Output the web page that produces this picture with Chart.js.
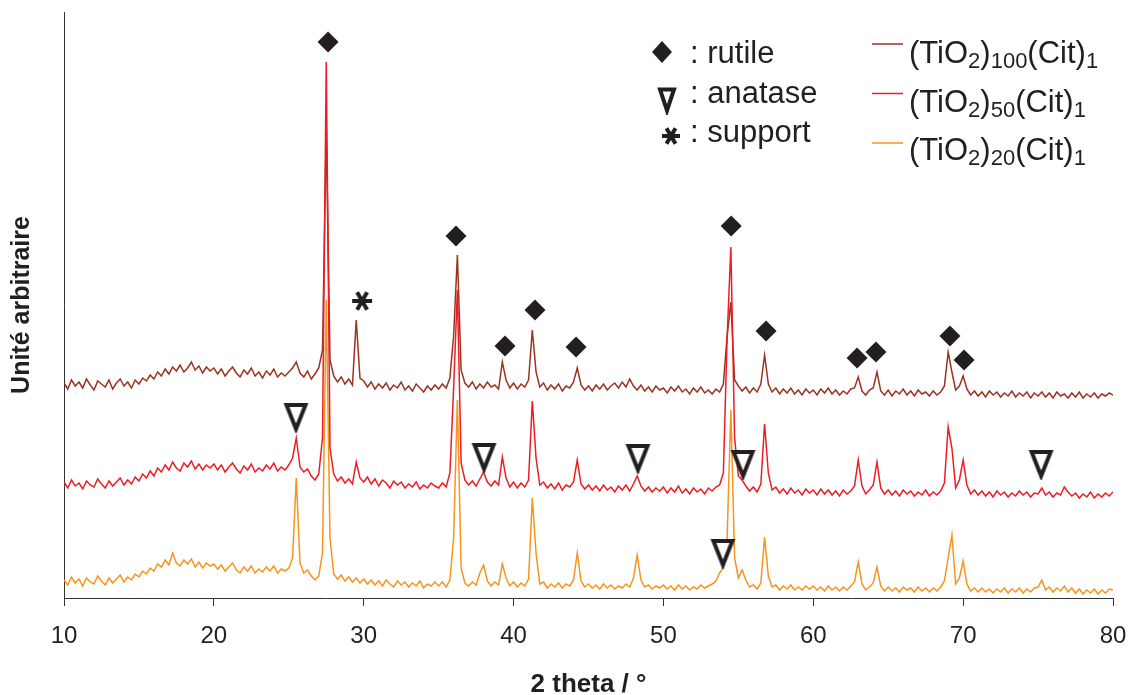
<!DOCTYPE html>
<html>
<head>
<meta charset="utf-8">
<script src="https://cdn.jsdelivr.net/npm/chart.js@4.4.0/dist/chart.umd.min.js"></script>
<style>
  html, body { margin: 0; padding: 0; background: #fff; }
</style>
</head>
<body>
<canvas id="xrd" width="1129" height="695"></canvas>
<script>
/* ---------- data (2 theta grid: 10 -> 80 by 0.25) ---------- */
const angleStart = 10;
const angleStep = 0.25;

const tio2_100 = [
  215, 209, 218, 212, 216, 210, 219, 213, 208, 217, 214, 211, 218, 209, 215, 219, 212, 216, 210, 218,
  214, 220, 217, 223, 219, 226, 222, 229, 224, 231, 227, 233, 226, 230, 236, 228, 232, 225, 231, 227,
  230, 224, 229, 222, 227, 231, 225, 221, 228, 224, 230, 222, 226, 220, 227, 223, 229, 221, 225, 222,
  226, 230, 236, 225, 221, 227, 219, 224, 230, 248, 470, 238, 222, 216, 221, 214, 219, 213, 278, 220,
  217, 211, 216, 209, 214, 210, 215, 208, 213, 210, 216, 208, 212, 207, 214, 210, 206, 212, 208, 213,
  209, 214, 210, 220, 262, 343, 228, 215, 211, 216, 209, 214, 210, 216, 211, 213, 209, 236, 218, 210,
  215, 209, 214, 211, 218, 268, 226, 211, 215, 208, 213, 209, 214, 207, 212, 210, 216, 230, 213, 208,
  212, 207, 213, 209, 214, 208, 212, 215, 210, 216, 211, 219, 212, 208, 213, 207, 211, 206, 212, 208,
  210, 205, 211, 207, 212, 206, 209, 204, 210, 206, 211, 205, 208, 204, 209, 206, 214, 262, 296, 218,
  212, 207, 211, 205, 210, 206, 214, 243, 214, 206, 210, 204, 209, 205, 210, 204, 208, 203, 209, 205,
  208, 203, 209, 205, 210, 204, 208, 203, 207, 204, 209, 210, 221, 207, 203, 208, 210, 226, 207, 203,
  208, 202, 207, 204, 209, 203, 207, 202, 208, 204, 206, 202, 207, 203, 206, 212, 246, 226, 208, 212,
  222, 209, 203, 207, 202, 206, 201, 207, 203, 206, 201, 205, 202, 207, 201, 205, 202, 206, 200, 205,
  202, 206, 201, 205, 200, 206, 202, 204, 200, 205, 201, 206, 200, 204, 201, 205, 200, 204, 202, 205,
  203
];

const tio2_50 = [
  116, 110, 118, 112, 115, 109, 117, 113, 111, 119, 114, 110, 117, 112, 116, 120, 113, 118, 114, 121,
  117, 124, 120, 127, 122, 130, 126, 133, 128, 136, 130, 127, 135, 131, 137, 129, 134, 128, 133, 130,
  134, 128, 133, 126, 131, 135, 129, 125, 132, 128, 134, 126, 130, 127, 133, 129, 135, 127, 131, 128,
  133, 140, 160, 131, 126, 129, 122, 118, 124, 160, 536, 150, 124, 117, 121, 115, 119, 114, 136, 120,
  116, 121, 114, 119, 112, 118, 115, 110, 117, 113, 116, 110, 114, 111, 116, 109, 113, 110, 115, 112,
  110, 115, 111, 125, 210, 308, 135, 118, 113, 117, 112, 119, 126, 116, 112, 117, 113, 141, 120, 111,
  116, 110, 115, 111, 118, 197, 140, 113, 116, 110, 114, 109, 115, 108, 113, 111, 116, 138, 114, 109,
  113, 108, 112, 107, 113, 108, 111, 106, 112, 108, 113, 107, 114, 122, 112, 107, 111, 106, 110, 107,
  111, 105, 110, 106, 112, 105, 109, 104, 110, 106, 109, 104, 110, 107, 111, 113, 125, 260, 351, 160,
  122, 118, 112, 107, 111, 106, 114, 174, 125, 108, 111, 105, 109, 104, 110, 105, 108, 103, 109, 105,
  108, 103, 109, 104, 108, 103, 107, 102, 108, 104, 107, 112, 138, 112, 104, 108, 113, 136, 110, 104,
  108, 103, 107, 102, 108, 104, 107, 102, 106, 103, 108, 102, 106, 103, 107, 115, 171, 150, 110, 118,
  138, 113, 104, 108, 103, 107, 102, 106, 101, 107, 103, 106, 101, 105, 102, 107, 103, 106, 101, 105,
  104, 110, 103, 106, 101, 105, 103, 111, 106, 102, 105, 100, 104, 101, 106, 100, 104, 101, 105, 102,
  106
];

const tio2_20 = [
  18, 13, 21, 15, 19, 12, 20, 16, 14, 22, 17, 13, 20, 15, 19, 23, 16, 21, 18, 24,
  21, 27, 24, 30, 27, 34, 31, 38, 33, 45, 35, 32, 38, 34, 39, 31, 36, 30, 35, 32,
  34, 29, 33, 27, 31, 35, 28, 25, 31, 27, 32, 25, 29, 26, 31, 27, 32, 25, 29, 27,
  30, 40, 120, 35, 25, 28, 22, 18, 22, 45, 298, 60, 24, 19, 23, 17, 21, 16, 20, 15,
  19, 14, 18, 13, 17, 12, 18, 14, 11, 17, 13, 16, 11, 15, 12, 17, 10, 14, 12, 16,
  12, 16, 11, 18, 60, 198, 30, 15, 12, 16, 13, 25, 33, 17, 12, 16, 13, 34, 20, 12,
  16, 11, 15, 12, 19, 100, 45, 14, 16, 10, 14, 11, 15, 10, 14, 12, 18, 45, 17, 11,
  14, 10, 13, 9, 14, 10, 13, 9, 12, 10, 14, 11, 20, 43, 18, 11, 13, 9, 12, 10,
  13, 9, 12, 8, 13, 9, 12, 8, 11, 9, 13, 10, 12, 14, 17, 25, 30, 60, 188, 40,
  20, 28, 18, 11, 13, 9, 15, 61, 22, 11, 13, 8, 12, 9, 13, 8, 11, 8, 12, 9,
  12, 8, 11, 7, 12, 8, 11, 7, 11, 8, 12, 16, 36, 14, 8, 11, 15, 31, 12, 7,
  11, 7, 10, 6, 11, 8, 10, 6, 11, 7, 10, 6, 10, 7, 11, 17, 40, 63, 14, 20,
  37, 14, 7, 10, 6, 10, 6, 9, 5, 9, 6, 10, 5, 9, 6, 10, 5, 9, 6, 10,
  11, 18, 8, 11, 6, 10, 7, 12, 6, 10, 5, 9, 4, 8, 5, 9, 4, 8, 5, 9,
  8
];

// phase markers
const rutileX   = [27.62, 36.16, 39.43, 41.43, 44.17, 54.52, 56.85, 62.92, 64.18, 69.12, 70.06];
const rutileY   = [556, 362, 252, 288, 251, 372, 267, 240, 246, 262, 238];
const anataseX  = [25.48, 38.03, 48.30, 55.31, 75.20, 53.97];
const anataseY  = [182, 142, 141, 135, 135, 46];
const supportX  = [29.89];
const supportY  = [297];

const ratios    = ['100', '50', '20'];
const colors    = ['#9a3322', '#ed1c24', '#f7941d'];
const xTicks    = [10, 20, 30, 40, 50, 60, 70, 80];
const phaseText = [': rutile', ': anatase', ': support'];

/* ---------- helpers ---------- */
const ink = '#231f20';
const FONT = "'Liberation Sans', Arial, sans-serif";

function toPoints(vals) {
  return vals.map((v, i) => ({ x: angleStart + i * angleStep, y: v }));
}
function toMarkers(xs, ys) {
  return xs.map((x, i) => ({ x, y: ys[i] }));
}

function makeTriangle(w, h, lw) {
  const c = document.createElement('canvas');
  c.width = w + lw * 2; c.height = h + lw * 2;
  const g = c.getContext('2d');
  g.lineWidth = lw;
  g.lineJoin = 'miter';
  g.strokeStyle = ink;
  g.fillStyle = '#fff';
  g.beginPath();
  g.moveTo(lw, lw + lw / 2);
  g.lineTo(lw + w, lw + lw / 2);
  g.lineTo(lw + w / 2, lw + h);
  g.closePath();
  g.fill();
  g.stroke();
  return c;
}

function makeAsterisk(r, lw) {
  const c = document.createElement('canvas');
  c.width = c.height = r * 2 + 4;
  const g = c.getContext('2d');
  const m = r + 2;
  g.strokeStyle = ink;
  g.lineWidth = lw;
  g.lineCap = 'butt';
  [0, 60, 120].forEach(a => {
    const t = a * Math.PI / 180;
    g.beginPath();
    g.moveTo(m - Math.cos(t) * r, m - Math.sin(t) * r);
    g.lineTo(m + Math.cos(t) * r, m + Math.sin(t) * r);
    g.stroke();
  });
  return c;
}

const triMark   = makeTriangle(19, 26, 4);
const starMark  = makeAsterisk(10, 4);
const triKey    = makeTriangle(14, 23, 4);
const starKey   = makeAsterisk(9, 4);

/* ---------- legend drawn by hand (subscripts) ---------- */
const keyPlugin = {
  id: 'xrdKey',
  afterDraw(chart) {
    const ctx = chart.ctx;
    ctx.save();
    ctx.textBaseline = 'alphabetic';
    ctx.textAlign = 'left';

    // phase symbols
    ctx.fillStyle = ink;
    ctx.beginPath();
    ctx.moveTo(662, 41); ctx.lineTo(672, 52); ctx.lineTo(662, 63); ctx.lineTo(652, 52);
    ctx.closePath();
    ctx.fill();
    ctx.drawImage(triKey, 667 - triKey.width / 2, 99 - triKey.height / 2);
    ctx.drawImage(starKey, 671 - starKey.width / 2, 136 - starKey.height / 2);

    ctx.font = '31px ' + FONT;
    phaseText.forEach((t, i) => ctx.fillText(t, 690, 63 + i * 39.5));

    // sample lines
    ratios.forEach((r, i) => {
      const ly = 44 + i * 49.5;
      const by = 63 + i * 48.5;
      ctx.strokeStyle = colors[i];
      ctx.lineWidth = 1.5;
      ctx.beginPath();
      ctx.moveTo(872, ly); ctx.lineTo(903, ly);
      ctx.stroke();

      const parts = [['(TiO', 0], ['2', 1], [')', 0], [r, 1], ['(Cit)', 0], ['1', 1]];
      let x = 909;
      ctx.fillStyle = ink;
      parts.forEach(([txt, sub]) => {
        ctx.font = (sub ? '22px ' : '31px ') + FONT;
        ctx.fillText(txt, x, by + (sub ? 5 : 0));
        x += ctx.measureText(txt).width;
      });
    });
    ctx.restore();
  }
};

/* ---------- chart ---------- */
Chart.defaults.font.family = FONT;
Chart.defaults.color = ink;

const lineStyle = { borderWidth: 1.5, pointRadius: 0, fill: false, tension: 0 };

new Chart(document.getElementById('xrd'), {
  type: 'line',
  data: {
    datasets: [
      { label: '(TiO₂)₁₀₀(Cit)₁', data: toPoints(tio2_100), borderColor: colors[0], order: 2, ...lineStyle },
      { label: '(TiO₂)₅₀(Cit)₁',  data: toPoints(tio2_50),  borderColor: colors[1], order: 0, ...lineStyle },
      { label: '(TiO₂)₂₀(Cit)₁',  data: toPoints(tio2_20),  borderColor: colors[2], order: 1, ...lineStyle },
      { type: 'scatter', label: 'rutile', data: toMarkers(rutileX, rutileY), order: -1,
        pointStyle: 'rectRot', pointRadius: 10.5, backgroundColor: ink, borderWidth: 0 },
      { type: 'scatter', label: 'anatase', data: toMarkers(anataseX, anataseY), order: -1,
        pointStyle: triMark, pointRadius: 10 },
      { type: 'scatter', label: 'support', data: toMarkers(supportX, supportY), order: -1,
        pointStyle: starMark, pointRadius: 10 }
    ]
  },
  options: {
    responsive: false,
    animation: false,
    layout: { padding: { left: 0, top: 12, right: 16, bottom: 0 } },
    plugins: { legend: { display: false }, tooltip: { enabled: false } },
    scales: {
      x: {
        type: 'linear',
        min: 10, max: 80,
        afterBuildTicks: s => { s.ticks = xTicks.map(v => ({ value: v })); },
        afterFit: s => { s.height = 97; s.paddingLeft = 0; s.paddingRight = 0; },
        ticks: { font: { size: 24 }, color: ink, padding: 16, maxRotation: 0 },
        grid: { drawOnChartArea: false, drawTicks: true, tickLength: 8, color: '#333', lineWidth: 1 },
        border: { display: true, color: '#333', width: 1 },
        title: { display: true, text: '2 theta / °', font: { size: 26, weight: 'bold' }, color: ink,
                 padding: { top: 0, bottom: -5 } }
      },
      y: {
        min: 0, max: 586,
        afterFit: s => { s.width = 64; },
        ticks: { display: false },
        grid: { display: false, drawTicks: false },
        border: { display: true, color: '#333', width: 1 },
        title: { display: true, text: 'Unité arbitraire', font: { size: 25, weight: 'bold' }, color: ink,
                 padding: { top: 7, bottom: 0 } }
      }
    }
  },
  plugins: [keyPlugin]
});
</script>
</body>
</html>
